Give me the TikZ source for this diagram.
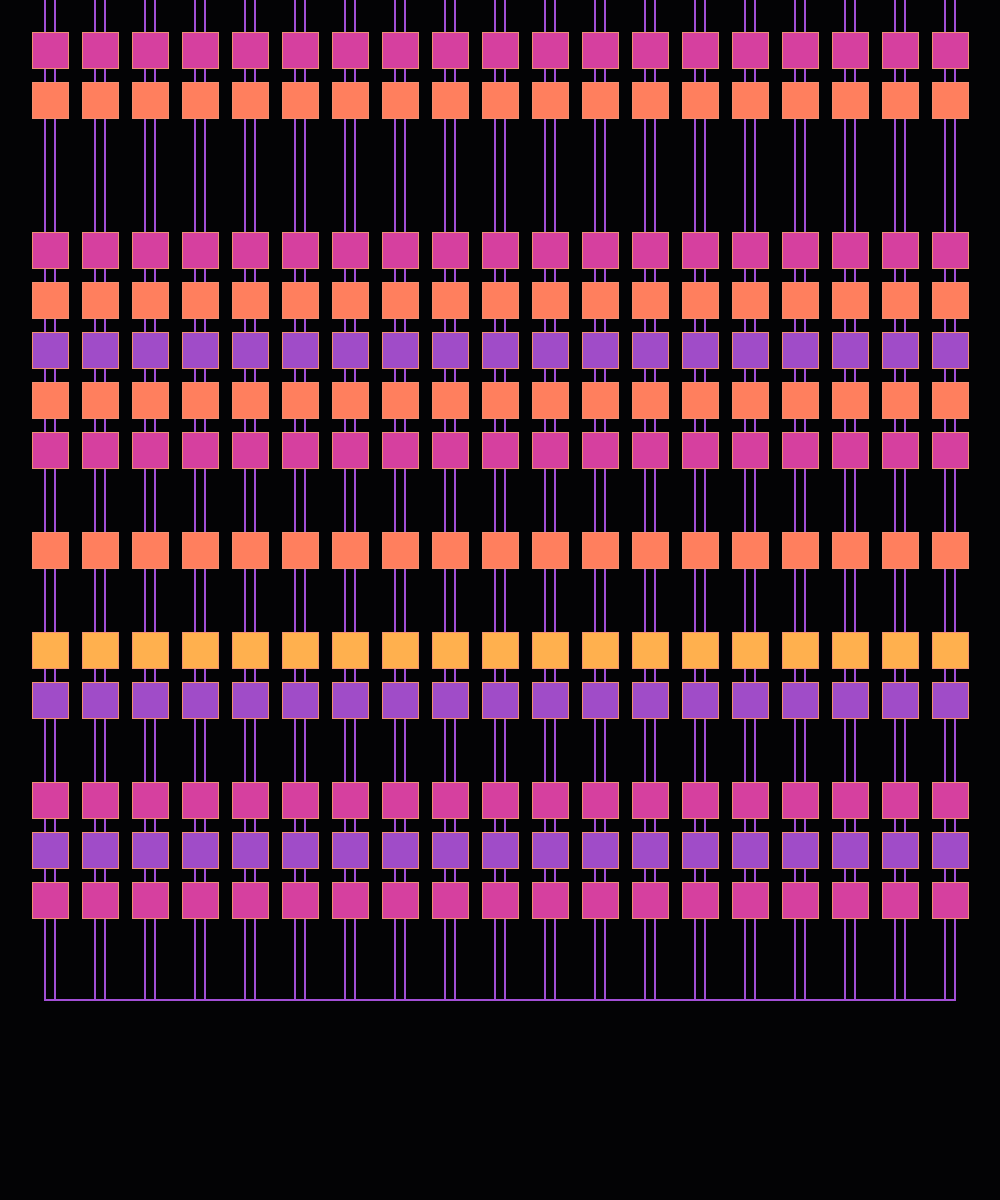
\documentclass[tikz,border=0pt]{standalone}
\definecolor{bg}{HTML}{030305}
\definecolor{wirec}{HTML}{A24FD6}
\definecolor{edgec}{HTML}{F29070}
\definecolor{mag}{HTML}{D6409F}
\definecolor{org}{HTML}{FF7F5E}
\definecolor{pur}{HTML}{A04CC8}
\definecolor{yel}{HTML}{FFB04E}
\begin{document}
\begin{tikzpicture}[x=1pt,y=-1pt,
  box/.style={draw=edgec, line width=1pt, minimum size=36pt, inner sep=0pt, outer sep=0pt},
  wire/.style={draw=wirec, line width=2pt}]
\fill[bg] (0,0) rectangle (1000,1200);
\useasboundingbox (0,0) rectangle (1000,1200);
\foreach \c in {1,...,19} {
  \coordinate (top-\c) at (\c*50,0);
  \coordinate (bot-\c) at (\c*50,1000);
}
\foreach \c in {1,...,19} {
  \draw[wire] ([xshift=-5pt]top-\c) -- ([xshift=-5pt]bot-\c);
  \draw[wire] ([xshift=5pt]top-\c) -- ([xshift=5pt]bot-\c);
}
\draw[wire, line join=miter] ([xshift=-5pt]top-1) -- ([xshift=-5pt]bot-1) -- ([xshift=5pt]bot-19) -- ([xshift=5pt]top-19);
\foreach \r/\y/\col in {1/50/mag, 2/100/org, 3/250/mag, 4/300/org, 5/350/pur, 6/400/org, 7/450/mag, 8/550/org, 9/650/yel, 10/700/pur, 11/800/mag, 12/850/pur, 13/900/mag} {
  \foreach \c in {1,...,19} {
    \node[box, fill=\col] (n-\r-\c) at (\c*50,\y) {};
  }
}
\end{tikzpicture}
\end{document}
